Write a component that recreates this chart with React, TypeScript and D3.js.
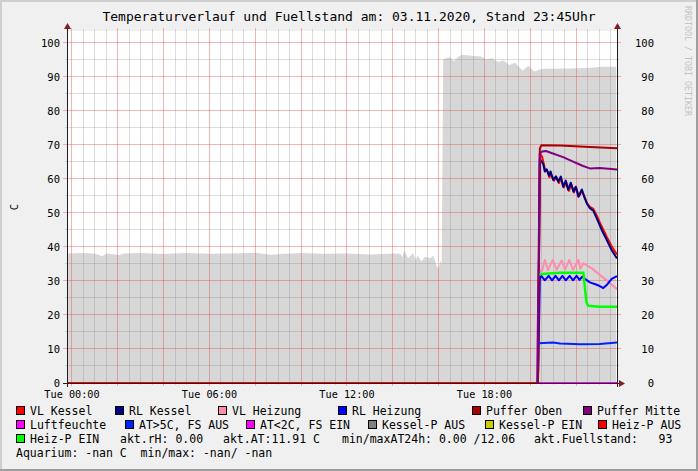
import React from 'react';
import * as d3 from 'd3';

const W = 698;
const H = 471;
const TITLE = 'Temperaturverlauf und Fuellstand am: 03.11.2020, Stand 23:45Uhr';
const WATERMARK = 'RRDTOOL / TOBI OETIKER';
const Y_TITLE = 'C';

// time in minutes relative to Tue 00:00
const timeDomain = [-13, 1427];
const timeLabelMinutes = [0, 360, 720, 1080];
const timeLabels = ['Tue 00:00', 'Tue 06:00', 'Tue 12:00', 'Tue 18:00'];
const yTickValues = [0, 10, 20, 30, 40, 50, 60, 70, 80, 90, 100];
const yDomain = [0, 103.5];

// Fuellstand (grey area)
const fuelTimes = [-13, 30, 60, 80, 90, 125, 135, 180, 240, 300, 360, 420, 480, 520, 560, 600, 660, 720, 780, 840, 860, 865, 870, 880, 893, 900, 905, 915, 924, 938, 946, 955, 960, 965, 968, 972, 980, 990, 1000, 1010, 1020, 1045, 1070, 1085, 1100, 1115, 1130, 1145, 1160, 1180, 1195, 1210, 1230, 1300, 1360, 1390, 1425];
const fuelValues = [38.1, 38.2, 38.0, 37.3, 38.1, 37.6, 38.1, 38.2, 37.9, 38.2, 38.0, 38.1, 38.3, 37.7, 38.0, 38.2, 38.0, 38.1, 37.8, 38.1, 38.0, 37.0, 39.0, 36.7, 38.2, 36.2, 37.5, 35.7, 37.1, 36.7, 37.5, 34.4, 33.5, 36.0, 35.0, 95.2, 95.5, 95.8, 94.6, 95.8, 96.5, 96.2, 96.0, 95.2, 95.5, 94.4, 94.8, 93.5, 94.2, 91.9, 93.3, 91.6, 92.4, 92.5, 92.7, 93.0, 93.0];

// series
const vlKesselTimes = [1220, 1225, 1231, 1238, 1244, 1250, 1254, 1262, 1268, 1275, 1280, 1288, 1294, 1301, 1307, 1314, 1320, 1327, 1335, 1342, 1348, 1356, 1365, 1374, 1387, 1400, 1413, 1427];
const vlKesselValues = [0, 67.5, 66.5, 63, 62.5, 60.5, 61.5, 59.5, 60.5, 58.8, 60.2, 57.5, 59, 56.5, 58.5, 56, 57.5, 54.8, 56.5, 54.8, 53, 51.8, 51.2, 49.2, 46, 43, 40.2, 37.8];

const rlKesselTimes = [1220, 1225, 1234, 1238, 1243, 1249, 1253, 1260, 1267, 1273, 1280, 1286, 1293, 1299, 1306, 1313, 1319, 1326, 1335, 1341, 1348, 1356, 1365, 1374, 1387, 1400, 1413, 1427];
const rlKesselValues = [0, 65.8, 64.4, 62.2, 62.8, 61.0, 62.2, 59.7, 60.8, 59.2, 60.7, 57.7, 59.5, 56.8, 58.9, 56.3, 57.7, 54.8, 56.9, 54.8, 52.8, 51.4, 50.7, 48.4, 45, 42.1, 39.1, 36.6];

const vlHeizungTimes = [1220, 1225, 1231, 1238, 1246, 1259, 1269, 1282, 1291, 1302, 1312, 1326, 1331, 1339, 1361, 1382, 1404, 1427];
const vlHeizungValues = [0, 33.2, 33.0, 36.2, 33.2, 36.2, 33.3, 36.0, 33.4, 36.2, 33.3, 36.2, 33.6, 35.2, 33.7, 31.8, 29.8, 27.6];

const rlHeizungTimes = [1220, 1225, 1229, 1238, 1248, 1257, 1266, 1275, 1284, 1293, 1303, 1312, 1321, 1329, 1336, 1343, 1356, 1374, 1382, 1391, 1400, 1413, 1427];
const rlHeizungValues = [0, 30.8, 31.5, 30.2, 31.5, 30.2, 31.5, 30.2, 31.5, 30.2, 31.5, 30.2, 31.5, 30.3, 31.3, 30.6, 29.6, 28.9, 28.5, 27.9, 28.8, 30.6, 31.4];

const pufferObenTimes = [1220, 1225, 1229, 1278, 1356, 1427];
const pufferObenValues = [0, 69.0, 69.9, 69.8, 69.4, 69.0];

const pufferMitteTimes = [1218, 1225, 1231, 1241, 1259, 1286, 1312, 1338, 1356, 1382, 1427];
const pufferMitteValues = [0, 67.5, 68.1, 68.2, 67.5, 66.4, 65.1, 63.8, 63.1, 63.2, 62.8];

const luftfeuchteTimes = [-13, 1427];
const luftfeuchteValues = [0, 0];

const atTimes = [1223, 1259, 1278, 1330, 1382, 1427];
const atValues = [11.7, 11.9, 11.6, 11.4, 11.5, 11.9];

const heizPAusTimes = [-13, 1220];
const heizPAusValues = [0, 0];

const heizPEinTimes = [1224, 1238, 1278, 1339, 1343, 1347, 1351, 1382, 1427];
const heizPEinValues = [32.0, 32.1, 32.4, 32.4, 28, 23.8, 22.7, 22.4, 22.4];

const seriesNames = ['VL Kessel', 'RL Kessel', 'VL Heizung', 'RL Heizung', 'Puffer Oben', 'Puffer Mitte', 'Luftfeuchte', 'AT>5C, FS AUS', 'AT<2C, FS EIN', 'Kessel-P AUS', 'Kessel-P EIN', 'Heiz-P AUS', 'Heiz-P EIN'];
const seriesColors = ['#FF0000', '#000080', '#FF8CAA', '#0000FF', '#A80000', '#800080', '#FF00FF', '#0022FF', '#FF00FF', '#808080', '#CCCC00', '#FF0000', '#00FF00'];

// drawing order (as defined): which series have data
const lineSeries = [
  { name: 'Luftfeuchte', t: luftfeuchteTimes, v: luftfeuchteValues, w: 2 },
  { name: 'Heiz-P AUS', t: heizPAusTimes, v: heizPAusValues, w: 2 },
  { name: 'VL Kessel', t: vlKesselTimes, v: vlKesselValues, w: 2 },
  { name: 'RL Kessel', t: rlKesselTimes, v: rlKesselValues, w: 2 },
  { name: 'VL Heizung', t: vlHeizungTimes, v: vlHeizungValues, w: 2 },
  { name: 'RL Heizung', t: rlHeizungTimes, v: rlHeizungValues, w: 2 },
  { name: 'Puffer Oben', t: pufferObenTimes, v: pufferObenValues, w: 2 },
  { name: 'Puffer Mitte', t: pufferMitteTimes, v: pufferMitteValues, w: 2 },
  { name: 'AT>5C, FS AUS', t: atTimes, v: atValues, w: 2 },
  { name: 'Heiz-P EIN', t: heizPEinTimes, v: heizPEinValues, w: 2.5 },
];

const infoRow3 = ['akt.rH: 0.00', 'akt.AT:11.91 C', 'min/maxAT24h: 0.00 /12.06', 'akt.Fuellstand:   93'];
const infoRow4 = 'Aquarium: -nan C  min/max: -nan/ -nan';

// layout (positions only)
const legendX = [16, 115, 218, 338, 472, 583, 16, 125, 246, 368, 485, 598, 16];
const legendRow = [0, 0, 0, 0, 0, 0, 1, 1, 1, 1, 1, 1, 2];
const infoRow3X = [120, 223, 342, 534];

const PL = 67, PR = 617, PT = 31, PB = 383;
const MONO = '"DejaVu Sans Mono", "Liberation Mono", monospace';

export default function App() {
  const x = d3.scaleLinear().domain(timeDomain).range([PL, PR]);
  const y = d3.scaleLinear().domain(yDomain).range([PB, PT]);

  const minorX = d3.range(0, timeDomain[1], 30).filter((m) => m % 120 !== 0);
  const majorX = d3.range(0, timeDomain[1], 120);
  const minorY = d3.range(5, 101, 5).filter((v) => v % 10 !== 0);
  const majorY = d3.range(10, 101, 10);

  const area = d3
    .area<number>()
    .x((_, i) => x(fuelTimes[i]))
    .y0(y(0))
    .y1((d) => y(d));

  const line = (t: number[]) =>
    d3
      .line<number>()
      .x((_, i) => x(t[i]))
      .y((d) => y(d));

  const colorOf = (n: string) => seriesColors[seriesNames.indexOf(n)];
  const rowY = [411, 425, 439, 453];

  const gridMinor = 'rgba(128,128,128,0.28)';
  const gridMajor = 'rgba(222,79,79,0.42)';
  const axisCol = '#1F1F1F';
  const arrowCol = '#7F1F1F';

  return (
    <svg
      width={W}
      height={H}
      style={{ position: 'absolute', left: 0, top: 0, display: 'block' }}
      fontFamily={MONO}
    >
      <rect x={0} y={0} width={W} height={H} fill="#F0F0F0" />
      <line x1={0} y1={1} x2={W} y2={1} stroke="#CFCFCF" strokeWidth={2} />
      <line x1={1} y1={0} x2={1} y2={H} stroke="#CFCFCF" strokeWidth={2} />
      <line x1={W - 1} y1={0} x2={W - 1} y2={H} stroke="#9E9E9E" strokeWidth={2} />
      <line x1={0} y1={H - 1} x2={W} y2={H - 1} stroke="#9E9E9E" strokeWidth={2} />

      <text x={349} y={21} textAnchor="middle" fontSize={13} fill="#000">
        {TITLE}
      </text>
      <text
        x={685}
        y={6}
        transform="rotate(90 685 6)"
        fontSize={8.3}
        fill="#C4C4C4"
        style={{ whiteSpace: 'pre' }}
      >
        {WATERMARK}
      </text>

      <rect x={PL} y={PT} width={PR - PL} height={PB - PT} fill="#FFFFFF" />
      <path d={area(fuelValues) || ''} fill="#D7D7D7" />

      {minorX.map((m) => (
        <line key={'mx' + m} x1={x(m)} x2={x(m)} y1={PT - 2} y2={PB + 2} stroke={gridMinor} strokeWidth={1} shapeRendering="crispEdges" />
      ))}
      {minorY.map((v) => (
        <line key={'my' + v} x1={PL - 2} x2={PR + 2} y1={y(v)} y2={y(v)} stroke={gridMinor} strokeWidth={1} shapeRendering="crispEdges" />
      ))}
      {majorX.map((m) => (
        <line key={'Mx' + m} x1={x(m)} x2={x(m)} y1={PT - 3} y2={PB + 3} stroke={gridMajor} strokeWidth={1} shapeRendering="crispEdges" />
      ))}
      {majorY.map((v) => (
        <line key={'My' + v} x1={PL - 4} x2={PR + 4} y1={y(v)} y2={y(v)} stroke={gridMajor} strokeWidth={1} shapeRendering="crispEdges" />
      ))}

      {lineSeries.map((s) => (
        <path
          key={s.name}
          d={line(s.t)(s.v) || ''}
          fill="none"
          stroke={colorOf(s.name)}
          strokeWidth={s.w}
          strokeLinejoin="round"
        />
      ))}

      {/* axes */}
      <line x1={PL - 4} x2={PR + 2} y1={PB + 0.5} y2={PB + 0.5} stroke={axisCol} strokeWidth={1} />
      <line x1={PL + 0.5} x2={PL + 0.5} y1={PB + 4} y2={PT - 2} stroke={axisCol} strokeWidth={1} />
      <line x1={PR + 0.5} x2={PR + 0.5} y1={PB + 4} y2={PT - 2} stroke={axisCol} strokeWidth={1} />
      <path d={`M${PR + 2},${PB - 3} L${PR + 8},${PB + 0.5} L${PR + 2},${PB + 4} Z`} fill={arrowCol} />
      <path d={`M${PL - 3},${PT - 2} L${PL + 0.5},${PT - 8} L${PL + 4},${PT - 2} Z`} fill={arrowCol} />
      <path d={`M${PR - 3},${PT - 2} L${PR + 0.5},${PT - 8} L${PR + 4},${PT - 2} Z`} fill={arrowCol} />

      {yTickValues.map((v) => (
        <g key={'yl' + v}>
          <text x={PL - 7} y={y(v) + 4} textAnchor="end" fontSize={10.5} fill="#000">
            {v}
          </text>
          <text x={654} y={y(v) + 4} textAnchor="end" fontSize={10.5} fill="#000">
            {v}
          </text>
        </g>
      ))}
      {timeLabelMinutes.map((m, i) => (
        <text key={'tl' + m} x={x(m)} y={398} textAnchor="middle" fontSize={10.2} fill="#000">
          {timeLabels[i]}
        </text>
      ))}
      <text x={18} y={207} transform="rotate(-90 18 207)" textAnchor="middle" fontSize={10.5} fill="#000">
        {Y_TITLE}
      </text>

      {/* legend */}
      {seriesNames.map((n, i) => (
        <g key={'lg' + n}>
          <rect
            x={legendX[i] + 0.5}
            y={rowY[legendRow[i]] - 4.5}
            width={8}
            height={8}
            fill={seriesColors[i]}
            stroke="#000"
            strokeWidth={1}
          />
          <text x={legendX[i] + 14} y={rowY[legendRow[i]] + 4} fontSize={11.5} fill="#000" style={{ whiteSpace: 'pre' }}>
            {n}
          </text>
        </g>
      ))}
      {infoRow3.map((s, i) => (
        <text key={'i3' + i} x={infoRow3X[i]} y={rowY[2] + 4} fontSize={11.5} fill="#000" style={{ whiteSpace: 'pre' }}>
          {s}
        </text>
      ))}
      <text x={16} y={rowY[3] + 4} fontSize={11.5} fill="#000" style={{ whiteSpace: 'pre' }}>
        {infoRow4}
      </text>
    </svg>
  );
}
